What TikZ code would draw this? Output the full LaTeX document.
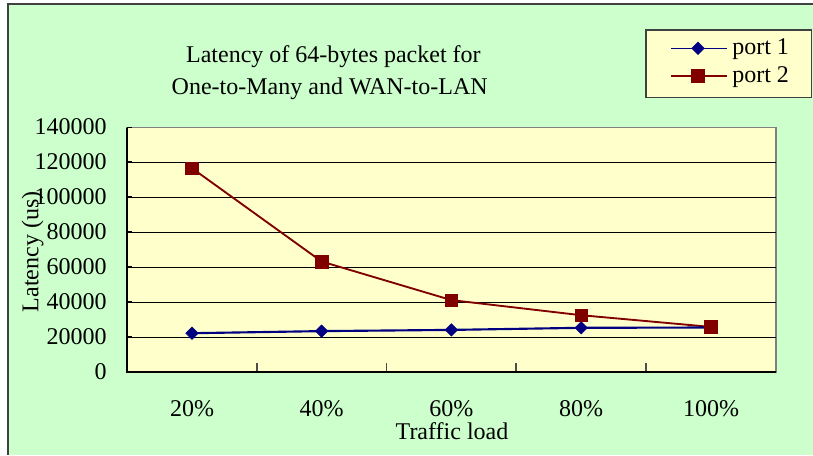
\documentclass[tikz,border=0pt]{standalone}
\usepackage{fontspec}
\setmainfont{Liberation Serif}
\usetikzlibrary{shapes.geometric}
\definecolor{bggreen}{HTML}{CCFFCC}
\definecolor{plotyellow}{HTML}{FFFFCC}
\definecolor{navyc}{HTML}{000080}
\definecolor{maroonc}{HTML}{800000}
\definecolor{framegray}{HTML}{404040}
\begin{document}
\begin{tikzpicture}[x=0.75pt,y=-0.75pt,
  font=\fontsize{18}{21}\selectfont,
  dmark/.style={diamond, fill=navyc, draw=navyc, inner sep=0pt, minimum size=9.5pt},
  smark/.style={rectangle, fill=maroonc, draw=maroonc, inner sep=0pt, minimum size=9.5pt},
  line1/.style={draw=navyc, line width=1.6pt},
  line2/.style={draw=maroonc, line width=1.4pt},
  gridline/.style={draw=black, line width=0.8pt},
  axisline/.style={draw=black, line width=1.4pt},
  ylab/.style={inner sep=0pt, anchor=base east},
  xlab/.style={inner sep=0pt, anchor=base},
  ticklab/.style={inner sep=0pt, anchor=base, text depth=0pt}]
\useasboundingbox (0,0) rectangle (813,455);
% outer chart area
\fill[white] (0,0) rectangle (813,455);
\fill[bggreen] (8,4) rectangle (813,455);
\draw[framegray, line width=1.4pt] (8,455) -- (8,4) -- (813,4);
% plot area
\draw[fill=plotyellow, draw=gray, line width=1.2pt] (127,127.5) rectangle (776,372);
\foreach \yy in {337.07,302.14,267.21,232.28,197.35,162.42}
  \draw[gridline] (127,\yy) -- (776,\yy);
\foreach \yy in {127.5,162.42,197.35,232.28,267.21,302.14,337.07}
  \draw[axisline] (127,\yy) -- (132,\yy);
\foreach \xx in {257,386.6,516,646}
  \draw[draw=black!70, line width=1pt] (\xx,372) -- (\xx,363);
\draw[axisline] (127,127.5) -- (127,372) -- (776,372);
% y tick labels
\node[ylab] (y0) at (107,379) {0};
\node[ylab] (y20) at (107,344.07) {20000};
\node[ylab] (y40) at (107,309.14) {40000};
\node[ylab] (y60) at (107,274.21) {60000};
\node[ylab] (y80) at (107,239.28) {80000};
\node[ylab] (y100) at (107,204.35) {100000};
\node[ylab] (y120) at (107,169.42) {120000};
\node[ylab] (y140) at (107,134.5) {140000};
% x tick labels
\node[ticklab] (x20) at (192,416.2) {20\%};
\node[ticklab] (x40) at (321.6,416.2) {40\%};
\node[ticklab] (x60) at (451.4,416.2) {60\%};
\node[ticklab] (x80) at (581.2,416.2) {80\%};
\node[ticklab] (x100) at (711,416.2) {100\%};
% axis titles
\node[xlab] (xtitle) at (452,439) {Traffic load};
\node[xlab, rotate=90] (ytitle) at (38.3,251.7) {Latency (us)};
% chart title
\node[xlab] (title1) at (333.4,62.7) {Latency of 64-bytes packet for};
\node[xlab] (title2) at (329.7,94.3) {One-to-Many and WAN-to-LAN};
% data point positions
\coordinate (pb1) at (192,168.2);
\coordinate (pb2) at (321.6,261.5);
\coordinate (pb3) at (451.4,300.1);
\coordinate (pb4) at (581.2,315.2);
\coordinate (pb5) at (711,326.9);
\coordinate (pa1) at (192,333.2);
\coordinate (pa2) at (321.6,331.1);
\coordinate (pa3) at (451.4,329.9);
\coordinate (pa4) at (581.2,327.8);
\coordinate (pa5) at (711,327.5);
\draw[line2] (pb1) -- (pb2) -- (pb3) -- (pb4) -- (pb5);
\draw[line1] (pa1) -- (pa2) -- (pa3) -- (pa4) -- (pa5);
\node[dmark] (a1) at (pa1) {};
\node[dmark] (a2) at (pa2) {};
\node[dmark] (a3) at (pa3) {};
\node[dmark] (a4) at (pa4) {};
\node[dmark] (a5) at (pa5) {};
\node[smark] (b1) at (pb1) {};
\node[smark] (b2) at (pb2) {};
\node[smark] (b3) at (pb3) {};
\node[smark] (b4) at (pb4) {};
\node[smark] (b5) at (pb5) {};
% legend
\draw[fill=plotyellow, draw=framegray, line width=1pt] (646,30) rectangle (811.5,97.5);
\coordinate (l1a) at (671,48.3);
\coordinate (l1b) at (727,48.3);
\coordinate (l2a) at (671,76);
\coordinate (l2b) at (727,76);
\draw[draw=navyc, line width=1.2pt] (l1a) -- (l1b);
\draw[draw=maroonc, line width=1.2pt] (l2a) -- (l2b);
\node[dmark] (lm1) at (698,48.3) {};
\node[smark] (lm2) at (698,76) {};
\node[inner sep=0pt, anchor=base west] (lt1) at (732,54.3) {port 1};
\node[inner sep=0pt, anchor=base west] (lt2) at (732,82.7) {port 2};
\end{tikzpicture}
\end{document}
